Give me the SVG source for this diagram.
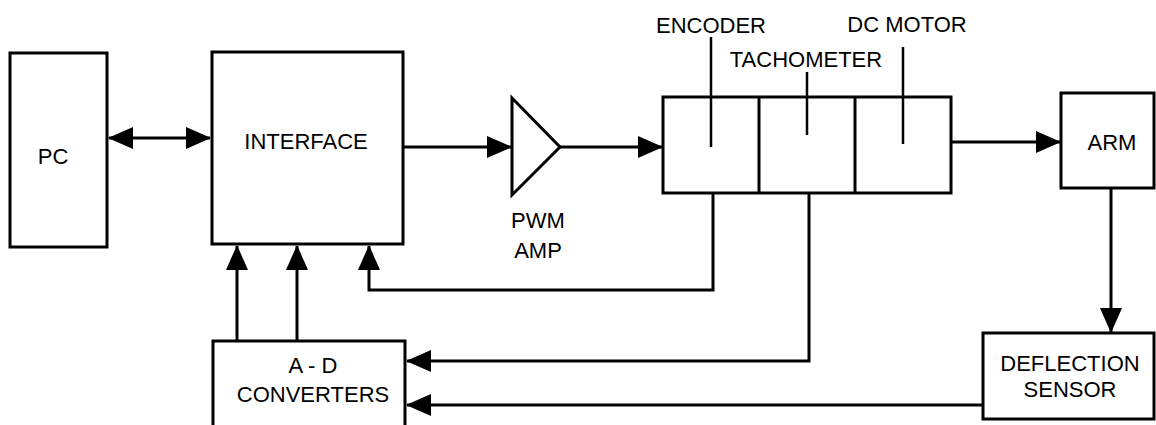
<svg xmlns="http://www.w3.org/2000/svg" width="1156" height="425" viewBox="0 0 1156 425">
<style>
.box{fill:#fff;stroke:#000;stroke-width:3}
.ln{fill:none;stroke:#000;stroke-width:3}
.tk{fill:none;stroke:#000;stroke-width:2.5}
text{font-family:"Liberation Sans",Arial,sans-serif;font-size:22px;fill:#000;text-anchor:middle}
</style>
<defs>
<marker id="ah" markerUnits="userSpaceOnUse" markerWidth="25" markerHeight="22" refX="24" refY="11" orient="auto-start-reverse">
<path d="M0,0 L25,11 L0,22 z" fill="#000"/>
</marker>
</defs>
<rect width="1156" height="425" fill="#fff"/>
<g id="connectors">
<path class="ln" d="M109,138 H210" marker-start="url(#ah)" marker-end="url(#ah)"/>
<path class="ln" d="M403,147 H511" marker-end="url(#ah)"/>
<path class="ln" d="M560,147 H662" marker-end="url(#ah)"/>
<path class="ln" d="M951,142 H1060" marker-end="url(#ah)"/>
<path class="ln" d="M1111,188 V332" marker-end="url(#ah)"/>
<path class="ln" d="M713,193 V290 H369 V246" marker-end="url(#ah)"/>
<path class="ln" d="M809,192 V361 H407" marker-end="url(#ah)"/>
<path class="ln" d="M983,405 H407" marker-end="url(#ah)"/>
<path class="ln" d="M237,341 V246" marker-end="url(#ah)"/>
<path class="ln" d="M297,341 V246" marker-end="url(#ah)"/>
</g>
<g id="pc">
<rect class="box" x="10" y="53" width="97" height="194"/>
<text x="53" y="164">PC</text>
</g>
<g id="interface">
<rect class="box" x="212" y="52" width="191" height="192"/>
<text x="306" y="149">INTERFACE</text>
</g>
<g id="pwm-amp">
<polygon class="box" points="512,98 560,147 512,195"/>
<text x="538" y="228">PWM</text>
<text x="538" y="258">AMP</text>
</g>
<g id="motor">
<rect class="box" x="663" y="97" width="288" height="96"/>
<line class="ln" x1="759" y1="97" x2="759" y2="193"/>
<line class="ln" x1="855" y1="97" x2="855" y2="193"/>
<line class="tk" x1="711" y1="37" x2="711" y2="147"/>
<line class="tk" x1="807" y1="72" x2="807" y2="135"/>
<line class="tk" x1="903" y1="47" x2="903" y2="144"/>
<text x="711" y="33">ENCODER</text>
<text x="806" y="67">TACHOMETER</text>
<text x="907" y="32">DC MOTOR</text>
</g>
<g id="arm">
<rect class="box" x="1061" y="93" width="93" height="95"/>
<text x="1112" y="150">ARM</text>
</g>
<g id="ad-converters">
<rect class="box" x="213" y="341" width="192" height="90"/>
<text x="313" y="373">A - D</text>
<text x="313" y="402">CONVERTERS</text>
</g>
<g id="deflection-sensor">
<rect class="box" x="983" y="333" width="171" height="86"/>
<text x="1070" y="371">DEFLECTION</text>
<text x="1070" y="397">SENSOR</text>
</g>
</svg>
